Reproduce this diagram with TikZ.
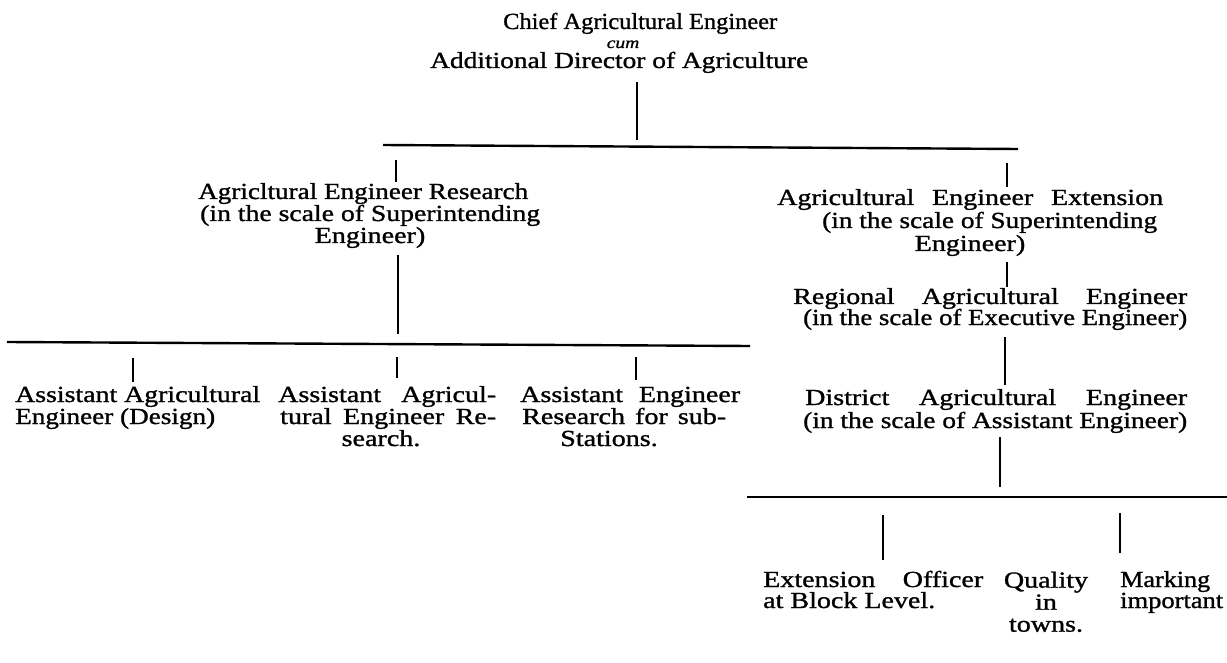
\documentclass[tikz,border=0pt]{standalone}
\usepackage{fontspec}
\setmainfont{Liberation Serif}[FakeStretch=1.22,FakeBold=1.2]
\usepackage{graphicx}
\newlength\fitnat
\newcommand\fitline[2]{\settowidth\fitnat{#2}\ifdim\fitnat>#1\relax\resizebox{#1}{\height}{#2}\else\makebox[#1][s]{#2}\fi}
\begin{document}
\begin{tikzpicture}[x=1pt,y=-1pt,
  txt/.style={inner sep=0pt, anchor=base west, font=\fontsize{23pt}{23pt}\selectfont},
  ctxt/.style={txt, anchor=base},
  barline/.style={line width=2.4pt},
  tickline/.style={line width=1.8pt}]
\useasboundingbox (0,0) rectangle (1227,663);

% ---------- top ----------
\node[txt] (chiefA) at (503,29) {\fitline{274pt}{Chief Agricultural Engineer}};
\node[ctxt, font=\fontsize{16pt}{16pt}\selectfont\itshape] (cum) at (623,48) {cum};
\node[txt] (chiefB) at (430,68) {\fitline{378pt}{Additional Director of Agriculture}};
\coordinate (v0a) at (637,82);
\coordinate (v0b) at (637,140);
\draw[tickline] (v0a) -- (v0b);
\coordinate (barAl) at (383,145);
\coordinate (barAr) at (1018,149);
\draw[barline] (barAl) -- (barAr);

% ---------- left branch ----------
\coordinate (tL1a) at (396,160); \coordinate (tL1b) at (396,182);
\draw[tickline] (tL1a) -- (tL1b);
\node[txt] (resA) at (198,199) {\fitline{330pt}{Agricltural Engineer Research}};
\node[txt] (resB) at (200,221) {\fitline{340pt}{(in the scale of Superintending}};
\node[ctxt] (resC) at (370,243) {Engineer)};
\coordinate (vLa) at (398,255); \coordinate (vLb) at (398,334);
\draw[tickline] (vLa) -- (vLb);
\coordinate (barBl) at (7,342);
\coordinate (barBr) at (750,346);
\draw[barline] (barBl) -- (barBr);
\coordinate (tB1a) at (133,358); \coordinate (tB1b) at (133,382);
\coordinate (tB2a) at (397,357); \coordinate (tB2b) at (397,378);
\coordinate (tB3a) at (636,357); \coordinate (tB3b) at (636,380);
\draw[tickline] (tB1a) -- (tB1b);
\draw[tickline] (tB2a) -- (tB2b);
\draw[tickline] (tB3a) -- (tB3b);

\node[txt] (c1a) at (15,402) {\fitline{245pt}{Assistant Agricultural}};
\node[txt] (c1b) at (15,424) {\fitline{200pt}{Engineer (Design)}};
\node[txt] (c2a) at (278,402) {\fitline{218pt}{Assistant Agricul-}};
\node[txt] (c2b) at (280,424) {\fitline{216pt}{tural Engineer Re-}};
\node[ctxt] (c2c) at (381,446) {search.};
\node[txt] (c3a) at (520,402) {\fitline{220pt}{Assistant Engineer}};
\node[txt] (c3b) at (522,424) {\fitline{204pt}{Research for sub-}};
\node[ctxt] (c3c) at (609,446) {Stations.};

% ---------- right branch ----------
\coordinate (tR1a) at (1007,163); \coordinate (tR1b) at (1007,187);
\draw[tickline] (tR1a) -- (tR1b);
\node[txt] (extA) at (777,205) {\fitline{386pt}{Agricultural Engineer Extension}};
\node[txt] (extB) at (822,228) {\fitline{335pt}{(in the scale of Superintending}};
\node[ctxt] (extC) at (970,251) {Engineer)};
\coordinate (vR1a) at (1007,262); \coordinate (vR1b) at (1007,287);
\draw[tickline] (vR1a) -- (vR1b);
\node[txt] (regA) at (793,304) {\fitline{394pt}{Regional Agricultural Engineer}};
\node[txt] (regB) at (803,325) {\fitline{384pt}{(in the scale of Executive Engineer)}};
\coordinate (vR2a) at (1005,337); \coordinate (vR2b) at (1005,385);
\draw[tickline] (vR2a) -- (vR2b);
\node[txt] (disA) at (805,405) {\fitline{382pt}{District Agricultural Engineer}};
\node[txt] (disB) at (803,428) {\fitline{384pt}{(in the scale of Assistant Engineer)}};
\coordinate (vR3a) at (1000,437); \coordinate (vR3b) at (1000,487);
\draw[tickline] (vR3a) -- (vR3b);
\coordinate (barCl) at (747,497);
\coordinate (barCr) at (1227,497);
\draw[barline] (barCl) -- (barCr);
\coordinate (tC1a) at (883,515); \coordinate (tC1b) at (883,560);
\coordinate (tC2a) at (1120,513); \coordinate (tC2b) at (1120,553);
\draw[tickline] (tC1a) -- (tC1b);
\draw[tickline] (tC2a) -- (tC2b);

\node[txt] (eoA) at (763,587) {\fitline{220pt}{Extension Officer}};
\node[txt] (eoB) at (763,608) {\fitline{172pt}{at Block Level.}};
\node[inner sep=0pt, anchor=north, align=center,
      font=\fontsize{23pt}{22pt}\selectfont] (qual) at (1046,571.5)
      {Quality\\in\\towns.};
\node[txt] (mA) at (1120,587) {\fitline{90pt}{Marking}};
\node[txt] (mB) at (1120,608) {\fitline{103pt}{important}};
\end{tikzpicture}
\end{document}
